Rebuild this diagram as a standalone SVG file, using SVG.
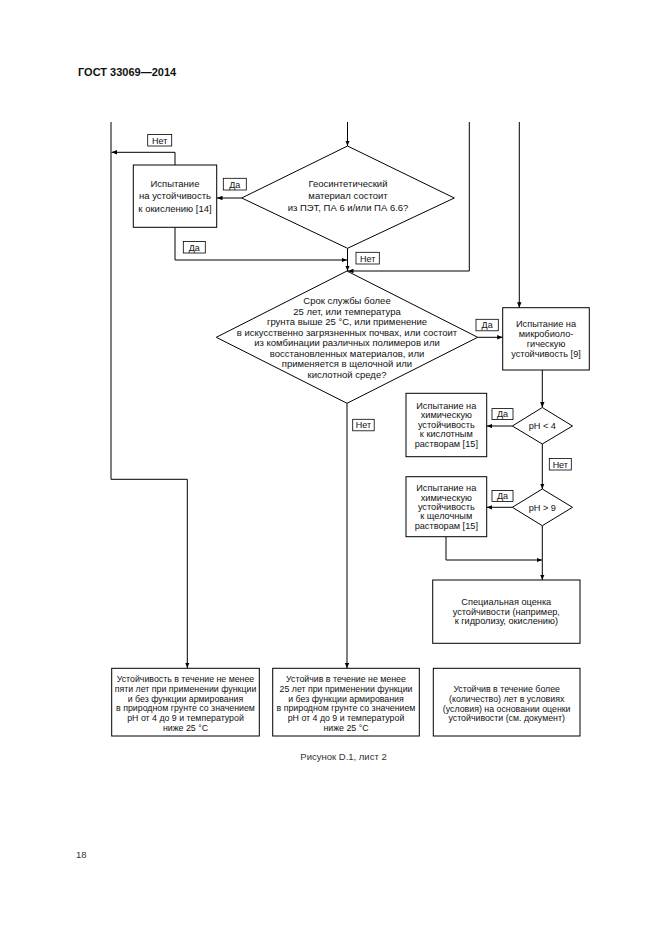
<svg xmlns="http://www.w3.org/2000/svg" width="661" height="936" viewBox="0 0 661 936">
<style>
text{font-family:"Liberation Sans",Arial,sans-serif;fill:#111;}
.t{font-size:9.5px;text-anchor:middle;}
.s{font-size:9.2px;text-anchor:middle;}
.r{font-size:8.8px;text-anchor:middle;}
.lb{font-size:9px;text-anchor:middle;}
.box{fill:#fff;stroke:#000;stroke-width:1;}
.lbox{fill:#fff;stroke:#000;stroke-width:0.8;}
.c{fill:none;stroke:#000;stroke-width:1;}
.a{marker-end:url(#ar);}
</style>
<defs>
<marker id="ar" markerWidth="6" markerHeight="5" refX="5.5" refY="2.2" orient="auto" markerUnits="userSpaceOnUse">
<path d="M0,0 L5.5,2.2 L0,4.4 z" fill="#000"/>
</marker>
</defs>
<rect width="661" height="936" fill="#fff"/>
<text x="78" y="75.8" style="font-size:11px;font-weight:bold;">ГОСТ 33069—2014</text>

<g id="connectors">
<path class="c a" d="M111,122 V479.3 H187.3 V668"/>
<path class="c a" d="M175,165 V152.3 H111.5"/>
<path class="c a" d="M347.5,122 V146"/>
<path class="c a" d="M241.7,198 H217"/>
<path class="c a" d="M175,227.3 V260 H347"/>
<path class="c a" d="M347.5,248.3 V271"/>
<path class="c a" d="M469.3,122 V271 H348"/>
<path class="c a" d="M519.3,122 V307.7"/>
<path class="c a" d="M477.7,337.3 H502.7"/>
<path class="c a" d="M542.3,370 V407.5"/>
<path class="c a" d="M512.3,426 H486.7"/>
<path class="c a" d="M542.3,444 V489"/>
<path class="c a" d="M512.3,507.3 H486.7"/>
<path class="c a" d="M446,536.7 V560 H542"/>
<path class="c a" d="M542.3,525.7 V580"/>
<path class="c a" d="M347,403.3 V668.3"/>
</g>

<g id="lbl-net1"><rect class="lbox" x="147.7" y="134.5" width="24" height="11.5"/><text class="lb" x="159.7" y="143.5">Нет</text></g>
<g id="lbl-da1"><rect class="lbox" x="223.3" y="178.3" width="23" height="11.7"/><text class="lb" x="234.8" y="187.5">Да</text></g>
<g id="lbl-da2"><rect class="lbox" x="183.3" y="241.5" width="22" height="11.5"/><text class="lb" x="194.3" y="250.6">Да</text></g>
<g id="lbl-net2"><rect class="lbox" x="356" y="252.3" width="23.3" height="11.7"/><text class="lb" x="367.6" y="261.5">Нет</text></g>
<g id="lbl-da3"><rect class="lbox" x="476" y="319.3" width="22.3" height="11.5"/><text class="lb" x="487.1" y="328.4">Да</text></g>
<g id="lbl-net3"><rect class="lbox" x="352.7" y="419.3" width="21.5" height="11.5"/><text class="lb" x="363.5" y="428.4">Нет</text></g>
<g id="lbl-da4"><rect class="lbox" x="492" y="408.6" width="21" height="11"/><text class="lb" x="502.5" y="417.4">Да</text></g>
<g id="lbl-net4"><rect class="lbox" x="549.3" y="458.5" width="22" height="11.5"/><text class="lb" x="560.3" y="467.5">Нет</text></g>
<g id="lbl-da5"><rect class="lbox" x="492" y="490.5" width="21" height="11"/><text class="lb" x="502.5" y="499.3">Да</text></g>

<g id="box-oxid">
<rect class="box" x="133.3" y="165" width="83.4" height="62.3"/>
<text class="t" x="175" y="186.6">Испытание</text>
<text class="t" x="175" y="199">на устойчивость</text>
<text class="t" x="175" y="211.5">к окислению [14]</text>
</g>

<g id="dia-geo">
<polygon class="box" points="347.5,146 454.3,198 347.5,248.3 241.7,198"/>
<text class="t" x="348" y="186.6">Геосинтетический</text>
<text class="t" x="348" y="199">материал состоит</text>
<text class="t" x="348" y="211">из ПЭТ, ПА 6 и/или ПА 6.6?</text>
</g>

<g id="dia-service">
<polygon class="box" points="347,271 477.7,337.3 347,403.3 216.3,337.3"/>
<text class="t" x="347" y="304">Срок службы более</text>
<text class="t" x="347" y="314.5">25 лет, или температура</text>
<text class="t" x="347" y="325">грунта выше 25 °С, или применение</text>
<text class="t" x="347" y="335.5">в искусственно загрязненных почвах, или состоит</text>
<text class="t" x="347" y="346">из комбинации различных полимеров или</text>
<text class="t" x="347" y="356.5">восстановленных материалов, или</text>
<text class="t" x="347" y="367">применяется в щелочной или</text>
<text class="t" x="347" y="377.5">кислотной среде?</text>
</g>

<g id="box-micro">
<rect class="box" x="502.7" y="307.7" width="86.6" height="62.3"/>
<text class="s" x="546" y="326.5">Испытание на</text>
<text class="s" x="546" y="336.8">микробиоло-</text>
<text class="s" x="546" y="347.1">гическую</text>
<text class="s" x="546" y="357.4">устойчивость [9]</text>
</g>

<g id="dia-ph4">
<polygon class="box" points="542.3,407.5 572.5,426 542.3,444 512.3,426"/>
<text class="s" x="542.3" y="429.2">pH &lt; 4</text>
</g>

<g id="box-acid">
<rect class="box" x="406" y="393.3" width="80.7" height="63.4"/>
<text class="s" x="446.3" y="408.9">Испытание на</text>
<text class="s" x="446.3" y="418.3">химическую</text>
<text class="s" x="446.3" y="427.7">устойчивость</text>
<text class="s" x="446.3" y="437.1">к кислотным</text>
<text class="s" x="446.3" y="446.5">растворам [15]</text>
</g>

<g id="dia-ph9">
<polygon class="box" points="542.3,489 572.5,507.3 542.3,525.7 512.3,507.3"/>
<text class="s" x="542.3" y="510.5">pH &gt; 9</text>
</g>

<g id="box-alkali">
<rect class="box" x="406" y="476.7" width="80.7" height="60"/>
<text class="s" x="446.3" y="491.1">Испытание на</text>
<text class="s" x="446.3" y="500.5">химическую</text>
<text class="s" x="446.3" y="509.9">устойчивость</text>
<text class="s" x="446.3" y="519.3">к щелочным</text>
<text class="s" x="446.3" y="528.7">растворам [15]</text>
</g>

<g id="box-special">
<rect class="box" x="432.7" y="580" width="147.3" height="63.3"/>
<text class="s" x="506.3" y="604.9">Специальная оценка</text>
<text class="s" x="506.3" y="614.5">устойчивости (например,</text>
<text class="s" x="506.3" y="624.1">к гидролизу, окислению)</text>
</g>

<g id="box-res1">
<rect class="box" x="111.7" y="668.3" width="147.6" height="67.7"/>
<text class="r" x="185.5" y="682.2">Устойчивость в течение не менее</text>
<text class="r" x="185.5" y="691.9">пяти лет при применении функции</text>
<text class="r" x="185.5" y="701.6">и без функции армирования</text>
<text class="r" x="185.5" y="711.3">в природном грунте со значением</text>
<text class="r" x="185.5" y="721">pH от 4 до 9 и температурой</text>
<text class="r" x="185.5" y="730.7">ниже 25 °С</text>
</g>

<g id="box-res2">
<rect class="box" x="272.7" y="668.3" width="146.6" height="67.7"/>
<text class="r" x="346" y="682.2">Устойчив в течение не менее</text>
<text class="r" x="346" y="691.9">25 лет при применении функции</text>
<text class="r" x="346" y="701.6">и без функции армирования</text>
<text class="r" x="346" y="711.3">в природном грунте со значением</text>
<text class="r" x="346" y="721">pH от 4 до 9 и температурой</text>
<text class="r" x="346" y="730.7">ниже 25 °С</text>
</g>

<g id="box-res3">
<rect class="box" x="433.3" y="668.3" width="146.7" height="67.7"/>
<text class="r" x="506.7" y="692.2">Устойчив в течение более</text>
<text class="r" x="506.7" y="701.9">(количество) лет в условиях</text>
<text class="r" x="506.7" y="711.6">(условия) на основании оценки</text>
<text class="r" x="506.7" y="721.3">устойчивости (см. документ)</text>
</g>

<text x="343.5" y="760" style="font-size:9.5px;text-anchor:middle;fill:#333;">Рисунок D.1, лист 2</text>
<text x="76" y="858" style="font-size:9.5px;fill:#333;">18</text>
</svg>
